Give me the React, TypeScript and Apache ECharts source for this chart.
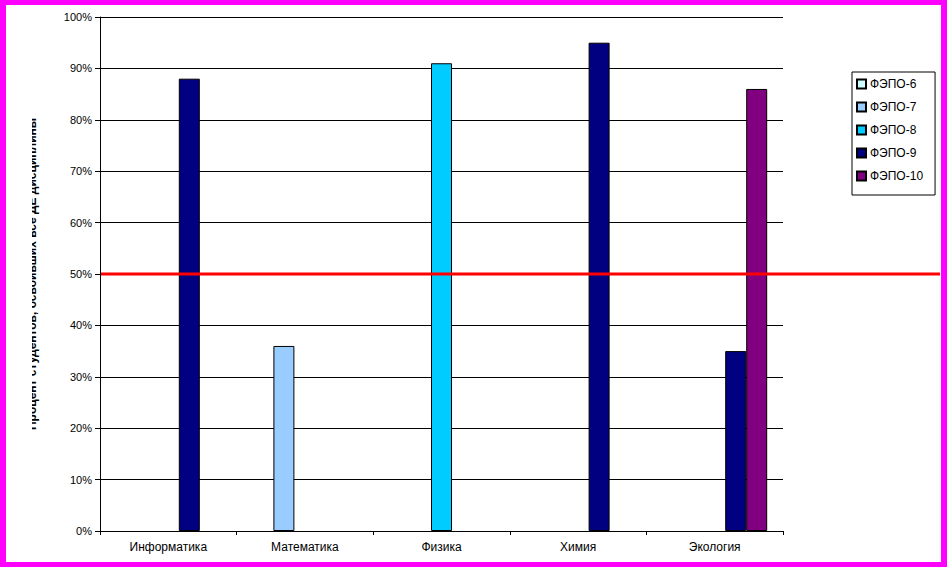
import React, { useEffect, useRef } from "react";
import * as echarts from "echarts";

const categories = ["Информатика", "Математика", "Физика", "Химия", "Экология"];
const seriesNames = ["ФЭПО-6", "ФЭПО-7", "ФЭПО-8", "ФЭПО-9", "ФЭПО-10"];
const fepo6: (number | null)[] = [null, null, null, null, null];
const fepo7: (number | null)[] = [null, 36, null, null, null];
const fepo8: (number | null)[] = [null, null, 91, null, null];
const fepo9: (number | null)[] = [88, null, null, 95, 35];
const fepo10: (number | null)[] = [null, null, null, null, 86];
const seriesValues = [fepo6, fepo7, fepo8, fepo9, fepo10];
const seriesColors = ["#CCFFFF", "#99CCFF", "#00CCFF", "#000080", "#800080"];
const thresholdValue = 50;
const yAxisTitle = "Процент студентов, освоивших все ДЕ дисциплины";

const FONT = "'Liberation Sans', Arial, sans-serif";

export default function App() {
  const ref = useRef<HTMLDivElement>(null);
  useEffect(() => {
    if (!ref.current) return;
    const chart = echarts.init(ref.current, null, { renderer: "svg" });
    const option: any = {
      animation: false,
      backgroundColor: "#FFFFFF",
      textStyle: { fontFamily: FONT },
      grid: { left: 100, right: 164, top: 17, bottom: 36 },
      legend: {
        orient: "vertical",
        left: 852,
        top: 72,
        itemWidth: 9,
        itemHeight: 9,
        itemGap: 11,
        padding: [6, 12, 13, 4],
        borderColor: "#000000",
        borderWidth: 1,
        backgroundColor: "#FFFFFF",
        textStyle: { fontFamily: FONT, fontSize: 12, color: "#000000", padding: [0, 0, 0, -1] },
        data: seriesNames.map((n) => ({ name: n, icon: "rect" })),
      },
      xAxis: {
        type: "category",
        data: categories,
        axisLine: { lineStyle: { color: "#000000", width: 1 } },
        axisTick: { show: true, length: 4, alignWithLabel: false, lineStyle: { color: "#000000" } },
        axisLabel: { color: "#000000", fontSize: 12, fontFamily: FONT, margin: 10 },
        splitLine: { show: false },
      },
      yAxis: {
        type: "value",
        min: 0,
        max: 100,
        interval: 10,
        axisLine: { show: true, lineStyle: { color: "#000000", width: 1 } },
        axisTick: { show: true, length: 5, lineStyle: { color: "#000000" } },
        axisLabel: { color: "#000000", fontSize: 11, fontFamily: FONT, margin: 8, formatter: "{value}%" },
        splitLine: { show: true, lineStyle: { color: "#000000", width: 1 } },
      },
      series: seriesNames.map((name, i) => ({
        name,
        type: "bar",
        data: seriesValues[i],
        barWidth: 21,
        barGap: "0%",
        itemStyle: { color: seriesColors[i], borderColor: "#000000", borderWidth: 1 },
      })),
    };
    chart.setOption(option);
    const yPix = chart.convertToPixel({ yAxisIndex: 0 }, thresholdValue) as number;
    const xStart = chart.convertToPixel({ xAxisIndex: 0 }, categories[0]) as number;
    const catW = (chart.convertToPixel({ xAxisIndex: 0 }, categories[1]) as number) - xStart;
    const plotLeft = xStart - catW / 2;
    chart.setOption({
      graphic: [
        {
          type: "text",
          z: 10,
          x: 38,
          y: 274,
          rotation: Math.PI / 2,
          style: {
            text: yAxisTitle,
            fontFamily: FONT,
            fontSize: 12,
            fontWeight: "bold",
            fill: "#000000",
            align: "center",
            verticalAlign: "bottom",
          },
        },
        {
          type: "rect",
          z: 11,
          shape: { x: 6, y: 90, width: 26, height: 380 },
          style: { fill: "#FFFFFF" },
        },
        {
          type: "line",
          z: 20,
          shape: { x1: plotLeft + 1, y1: yPix, x2: 940, y2: yPix },
          style: { stroke: "#FF0000", lineWidth: 3 },
        },
        { type: "rect", z: 30, shape: { x: 0, y: 0, width: 6, height: 567 }, style: { fill: "#FF00FF" } },
        { type: "rect", z: 30, shape: { x: 0, y: 0, width: 947, height: 5 }, style: { fill: "#FF00FF" } },
        { type: "rect", z: 30, shape: { x: 941, y: 0, width: 6, height: 567 }, style: { fill: "#FF00FF" } },
        { type: "rect", z: 30, shape: { x: 0, y: 562, width: 947, height: 5 }, style: { fill: "#FF00FF" } },
      ],
    });
    return () => chart.dispose();
  }, []);
  return (
    <div
      ref={ref}
      style={{ position: "absolute", left: 0, top: 0, width: 947, height: 567 }}
    />
  );
}
